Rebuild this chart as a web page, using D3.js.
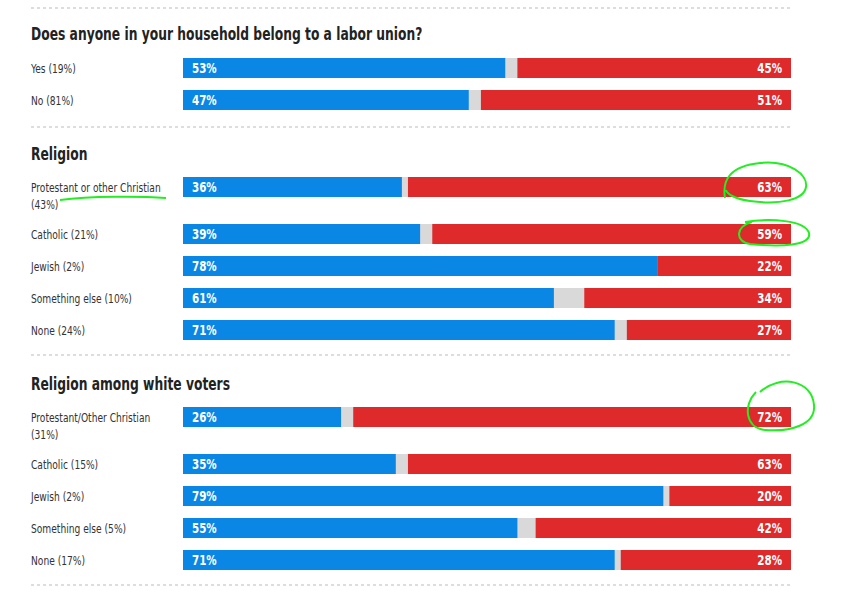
<!DOCTYPE html>
<html><head><meta charset="utf-8">
<script src="https://cdn.jsdelivr.net/npm/d3@7"></script>
<style>
body{margin:0;background:#fff;}
svg{font-family:"DejaVu Sans Condensed","DejaVu Sans",sans-serif;}
</style></head>
<body><div id="chart"></div>
<script>
const sectionTitles = ["Does anyone in your household belong to a labor union?", "Religion", "Religion among white voters"];
const groups = [
  ["Yes (19%)", "No (81%)"],
  [["Protestant or other Christian", "(43%)"], "Catholic (21%)", "Jewish (2%)", "Something else (10%)", "None (24%)"],
  [["Protestant/Other Christian", "(31%)"], "Catholic (15%)", "Jewish (2%)", "Something else (5%)", "None (17%)"]
];
const demValues = [[53, 47], [36, 39, 78, 61, 71], [26, 35, 79, 55, 71]];
const repValues = [[45, 51], [63, 59, 22, 34, 27], [72, 63, 20, 42, 28]];

// layout
const width = 842, height = 596;
const x0 = 183, x1 = 791, left = 31;
const titleY = [33, 153, 383];
const rowY = [[68, 100], [187, 234, 266, 298, 330], [417, 464, 496, 528, 560]];
const sepY = [8, 127, 355, 585];
const barH = 20;
const sq = 0.78; // horizontal squeeze to fake a condensed face

const svg = d3.select("#chart").append("svg").attr("width", width).attr("height", height);
const x = d3.scaleLinear().domain([0, 100]).range([x0, x1]);

// narrow text helper: anchor at (tx, ty) then squeeze
function narrowText(tx, ty, s, k) {
  return svg.append("text").attr("transform", `translate(${tx},${ty}) scale(${k},1)`).text(s);
}

sepY.forEach(y => svg.append("line")
  .attr("x1", left).attr("x2", x1).attr("y1", y).attr("y2", y)
  .attr("stroke", "#bbb").attr("stroke-dasharray", "3,3"));

sectionTitles.forEach((t, s) => {
  narrowText(left, titleY[s] + 7, t, 0.76)
    .attr("font-size", 18).attr("font-weight", "bold").attr("fill", "#222");

  groups[s].forEach((lab, i) => {
    const cy = rowY[s][i], d = demValues[s][i], r = repValues[s][i];
    const lines = Array.isArray(lab) ? lab : [lab];
    lines.forEach((ln, k) => narrowText(left, cy + 5 + k * 17, ln, sq)
      .attr("font-size", 13).attr("fill", "#333"));

    svg.append("rect").attr("x", x(0)).attr("y", cy - barH / 2).attr("width", x(100) - x(0)).attr("height", barH).attr("fill", "#d9d9d9");
    svg.append("rect").attr("x", x(0)).attr("y", cy - barH / 2).attr("width", x(d) - x(0)).attr("height", barH).attr("fill", "#0a87e5");
    svg.append("rect").attr("x", x(100 - r)).attr("y", cy - barH / 2).attr("width", x(100) - x(100 - r)).attr("height", barH).attr("fill", "#de2a2a");

    narrowText(x(0) + 9, cy + 5, d + "%", 0.82).attr("font-size", 14).attr("font-weight", "bold").attr("fill", "#fff");
    narrowText(x(100) - 9, cy + 5, r + "%", 0.82).attr("text-anchor", "end").attr("font-size", 14)
      .attr("font-weight", "bold").attr("fill", "#fff");
  });
});

// hand-drawn green marks
const green = g => svg.append("path").attr("d", g).attr("fill", "none").attr("stroke", "#22ee22").attr("stroke-width", 2);
green("M60,200 C90,196 140,196 166,198");
green("M725,198 C722,180 730,166 760,163 C790,160 808,175 806,187 C804,200 780,205 750,201 C735,199 727,194 726,190");
green("M745,222 C770,218 805,220 809,233 C812,246 780,247 750,244 C735,242 735,226 752,222");
green("M760,392 C780,374 812,380 814,405 C816,425 790,432 765,430 C745,428 743,405 756,392");
</script></body></html>
